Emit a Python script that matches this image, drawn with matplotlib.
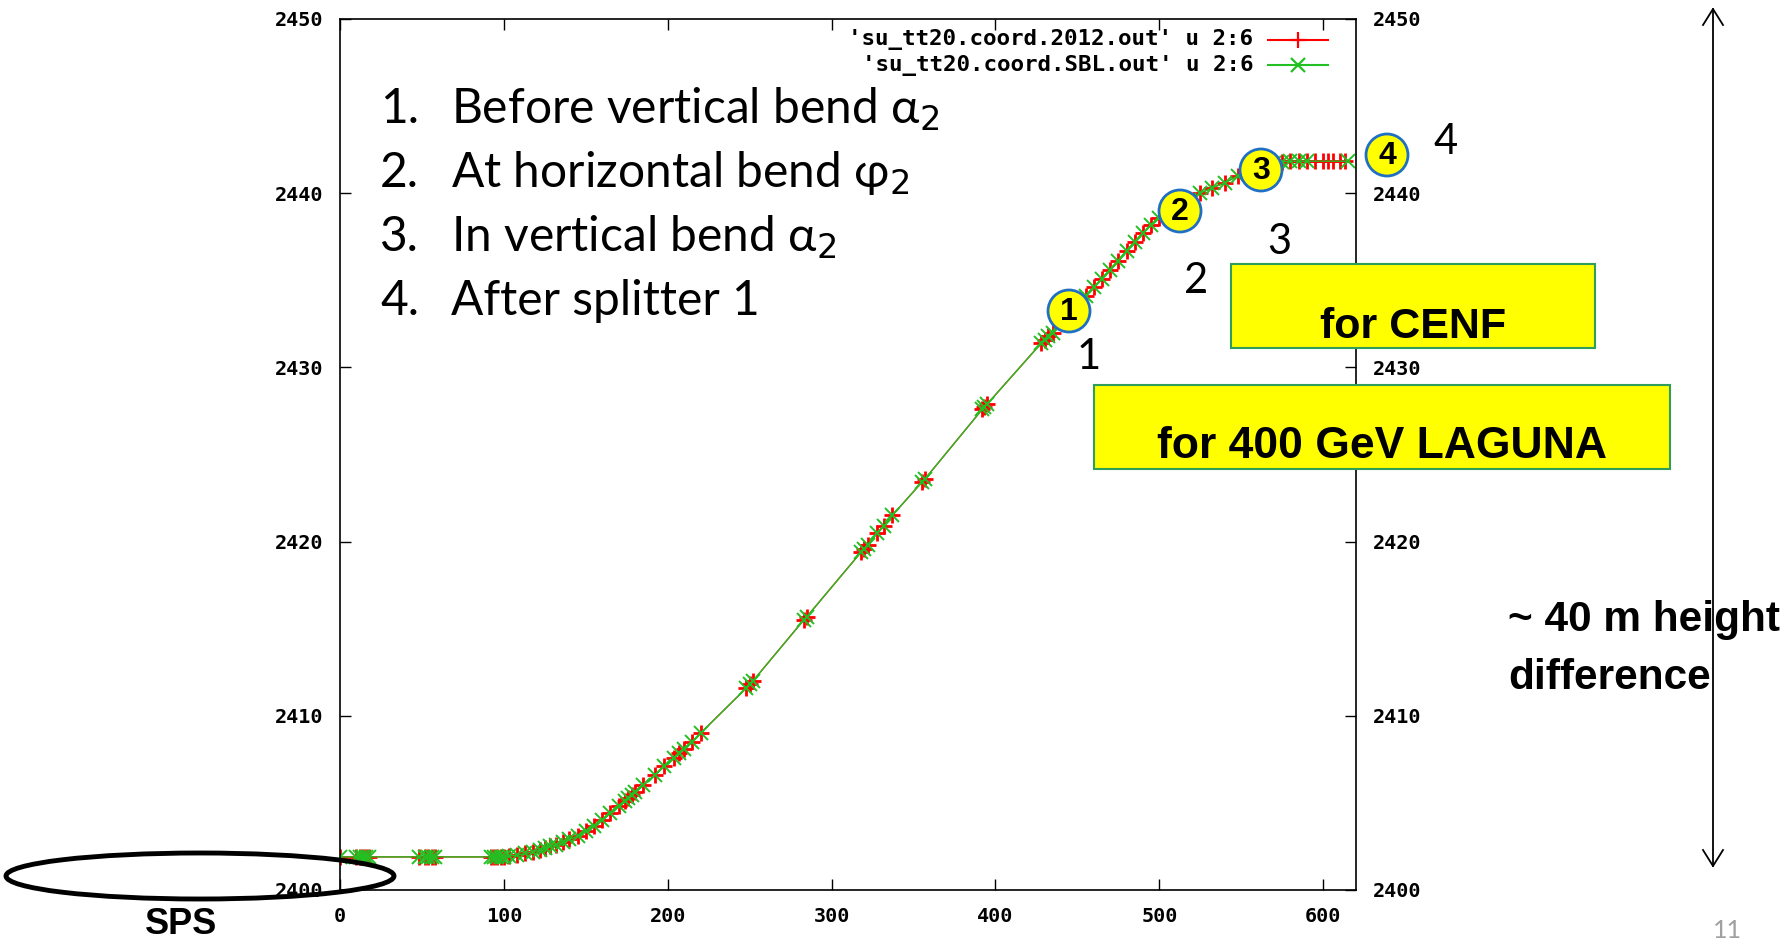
import matplotlib
matplotlib.use("Agg")
import matplotlib.pyplot as plt
from matplotlib.patches import Ellipse, Rectangle
from matplotlib.lines import Line2D

# beam line elevation vs path length (m)
s_sbl = [0, 10, 12, 14, 16, 18, 48, 52, 54, 56, 58, 92, 94, 96, 98, 100,
         103, 108, 113, 118, 122, 125, 128, 132, 136, 140, 145, 150, 155,
         160, 165, 170, 174, 176, 178, 180, 185, 192, 198, 204, 207, 210,
         215, 220, 248, 250, 252, 283, 285, 318, 320, 322, 328, 332, 337,
         355, 357, 392, 393, 395, 428, 430, 432, 435, 440, 445, 450, 455,
         460, 465, 470, 475, 480, 485, 490, 495, 500, 505, 510, 518, 525,
         532, 540, 548, 555, 560, 565, 570, 575, 580, 585, 590, 615]
z_sbl = [2401.9, 2401.9, 2401.9, 2401.9, 2401.9, 2401.9, 2401.9, 2401.9,
         2401.9, 2401.9, 2401.9, 2401.9, 2401.9, 2401.9, 2401.9, 2401.9,
         2401.95, 2402.0, 2402.1, 2402.2, 2402.3, 2402.4, 2402.5, 2402.6,
         2402.75, 2402.9, 2403.1, 2403.4, 2403.7, 2404.0, 2404.4, 2404.8,
         2405.1, 2405.3, 2405.45, 2405.6, 2406.0, 2406.6, 2407.1, 2407.6,
         2407.85, 2408.1, 2408.5, 2409.0, 2411.6, 2411.8, 2412.0, 2415.5,
         2415.7, 2419.4, 2419.6, 2419.8, 2420.5, 2420.9, 2421.5, 2423.4,
         2423.6, 2427.6, 2427.7, 2427.9, 2431.4, 2431.6, 2431.8, 2432.0,
         2432.6, 2433.1, 2433.6, 2434.1, 2434.6, 2435.1, 2435.6, 2436.1,
         2436.7, 2437.2, 2437.7, 2438.2, 2438.6, 2438.9, 2439.2, 2439.6,
         2440.0, 2440.3, 2440.6, 2441.0, 2441.3, 2441.5, 2441.65, 2441.75,
         2441.8, 2441.84, 2441.84, 2441.84, 2441.84]
s_2012 = s_sbl[:-1] + [595, 600, 603, 606, 610, 613]
z_2012 = z_sbl[:-1] + [2441.84, 2441.84, 2441.84, 2441.84, 2441.84, 2441.84]

legend_2012 = "'su_tt20.coord.2012.out' u 2:6"
legend_sbl = "'su_tt20.coord.SBL.out' u 2:6"

steps = ["Before vertical bend α$_2$",
         "At horizontal bend φ$_2$",
         "In vertical bend α$_2$",
         "After splitter 1"]

W, H = 1791, 941
fig = plt.figure(figsize=(W / 100, H / 100), dpi=100)
ax = fig.add_axes([340 / W, 1 - 890 / H, (1356 - 340) / W, (890 - 19) / H])

mono = dict(family="DejaVu Sans Mono", weight="bold")
bold = ["Liberation Sans", "DejaVu Sans"]
body = ["Lato", "DejaVu Sans"]

ax.plot(s_2012, z_2012, color="#ff0000", lw=1, marker="+", ms=11, mew=2)
ax.plot(s_sbl, z_sbl, color="#22c022", lw=1, marker="x", ms=10, mew=1.4)
ax.set_xlim(0, 620)
ax.set_ylim(2400, 2450)
ax.set_xticks(range(0, 601, 100))
ax.set_yticks(range(2400, 2451, 10))
ax.tick_params(direction="in", length=8, width=1, top=True, right=True,
               labelright=True, labelsize=14.5, pad=12)
for t in ax.xaxis.get_major_ticks() + ax.yaxis.get_major_ticks():
    for lab in (t.label1, t.label2):
        lab.set_family("DejaVu Sans Mono")
        lab.set_weight("bold")
for sp in ax.spines.values():
    sp.set_linewidth(1.2)

# gnuplot-style key
for i, (txt, col, mk, ms) in enumerate([(legend_2012, "#ff0000", "+", 11),
                                        (legend_sbl, "#22c022", "x", 10)]):
    y = 1 - (40 + 25 * i) / H
    fig.text(1253 / W, y, txt, ha="right", va="center", size=16.2, **mono)
    fig.add_artist(Line2D([1268 / W, 1328 / W], [y, y], color=col, lw=1.5))
    fig.add_artist(Line2D([1298 / W], [y], color=col, marker=mk, ms=ms, mew=1.6))

# numbered list
for i, txt in enumerate(steps):
    y = 1 - (109 + 64 * i) / H
    fig.text(380 / W, y, f"{i + 1}.", size=34.5, family=body, va="center")
    fig.text(451 / W, y, txt, size=34.5, family=body, va="center")

# circled markers along the line
circ = [(1069, 311, "1"), (1180, 211, "2"), (1261, 170, "3"), (1387, 155, "4")]
r = 21
for x, y, t in circ:
    fig.add_artist(Ellipse((x / W, 1 - y / H), 2 * r / W, 2 * r / H,
                           facecolor="#ffff00", edgecolor="#1f6fc5", lw=2))
    fig.text(x / W, 1 - (y + 1) / H, t, ha="center", va="center", size=23,
             weight="bold", family=bold)

plain = [(1089, 357, "1"), (1196, 281, "2"), (1279, 242, "3"), (1446, 142, "4")]
for x, y, t in plain:
    fig.text(x / W, 1 - y / H, t, ha="center", va="center", size=30,
             family=body)

# yellow boxes
boxes = [(1231, 264, 364, 84, "for CENF", 31, 1413, 327),
         (1094, 385, 576, 84, "for 400 GeV LAGUNA", 32, 1382, 447)]
for x0, y0, bw, bh, txt, fs, tx, ty in boxes:
    fig.add_artist(Rectangle((x0 / W, 1 - (y0 + bh) / H), bw / W, bh / H,
                             facecolor="#ffff00", edgecolor="#2e9e5b", lw=1.5))
    fig.text(tx / W, 1 - ty / H, txt, ha="center", va="center", size=fs,
             weight="bold", family=bold)

# height difference arrow
fig.add_artist(Line2D([1713 / W, 1713 / W], [1 - 9 / H, 1 - 866 / H],
                      color="black", lw=1.3))
fig.add_artist(Line2D([1703 / W, 1713 / W, 1723 / W],
                      [1 - 25 / H, 1 - 9 / H, 1 - 25 / H], color="black", lw=1.3))
fig.add_artist(Line2D([1703 / W, 1713 / W, 1723 / W],
                      [1 - 850 / H, 1 - 866 / H, 1 - 850 / H], color="black", lw=1.3))
fig.text(1508 / W, 1 - 620 / H, "~ 40 m height", size=30.5, weight="bold",
         family=bold, va="center")
fig.text(1508 / W, 1 - 678 / H, "difference", size=30.5, weight="bold",
         family=bold, va="center")

# SPS ring
fig.add_artist(Ellipse((200 / W, 1 - 876 / H), 388 / W, 46 / H,
                       facecolor="none", edgecolor="black", lw=3.5))
fig.text(181 / W, 1 - 924 / H, "SPS", ha="center", va="center", size=26,
         weight="bold", family=bold)

fig.text(1727 / W, 1 - 931 / H, "11", ha="center", va="center", size=18,
         color="#a0a0a0", family=body)

fig.savefig("out.png", dpi=100)
